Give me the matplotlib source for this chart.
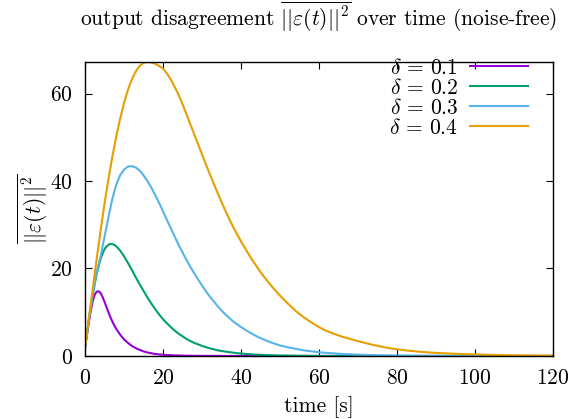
import matplotlib
matplotlib.use("Agg")
import matplotlib.pyplot as plt

plt.rcParams['font.family'] = 'cmr10'
plt.rcParams['mathtext.fontset'] = 'cm'
plt.rcParams['axes.formatter.use_mathtext'] = True

# values
t_01 = [0, 0.5, 1, 1.5, 2, 2.5, 3, 3.5, 4, 4.5, 5, 5.5, 6, 6.5, 7, 7.5, 8, 9, 10, 11, 12,
        13, 14, 15, 16, 18, 20, 23, 26, 30, 35, 40, 120]
e_01 = [1.9, 4.8, 7.8, 10.5, 12.6, 14.0, 14.7, 14.8, 14.4, 13.5, 12.4, 11.2, 10.0, 8.9,
        7.9, 7.0, 6.2, 4.9, 3.8, 3.0, 2.3, 1.8, 1.4, 1.05, 0.8, 0.45, 0.28, 0.13, 0.06,
        0.03, 0.01, 0.0, 0.0]

t_02 = [0, 0.5, 1, 1.5, 2, 2.5, 3, 3.5, 4, 4.5, 5, 5.5, 6, 6.5, 7, 7.5, 8, 8.5, 9, 10, 11,
        12, 13, 14, 15, 16, 17, 18, 19, 20, 21, 22, 23, 24, 25, 26, 27, 28, 30, 32, 34,
        36, 38, 40, 43, 46, 50, 55, 60, 70, 120]
e_02 = [1.9, 5.1, 8.3, 11.3, 14.0, 16.5, 18.7, 20.6, 22.2, 23.4, 24.4, 25.0, 25.4, 25.6,
        25.6, 25.4, 25.1, 24.6, 24.1, 22.8, 21.3, 19.7, 18.0, 16.4, 14.9, 13.4, 12.0, 10.7,
        9.5, 8.4, 7.5, 6.6, 5.8, 5.1, 4.5, 3.9, 3.4, 3.0, 2.3, 1.75, 1.3, 1.0, 0.75, 0.55,
        0.35, 0.22, 0.12, 0.05, 0.02, 0.0, 0.0]

t_03 = [0, 1, 2, 3, 4, 5, 6, 7, 8, 9, 10, 11, 12, 13, 14, 15, 16, 17, 18, 19, 20, 21, 22,
        23, 24, 25, 26, 27, 28, 29, 30, 31, 32, 33, 34, 35, 36, 38, 40, 42, 44, 46, 48, 50,
        53, 56, 60, 65, 70, 75, 80, 90, 100, 120]
e_03 = [1.9, 8.5, 14.2, 19.2, 22.8, 27.2, 31.7, 35.9, 39.1, 41.3, 42.6, 43.3, 43.4, 43.1,
        42.4, 41.3, 40.0, 38.5, 36.8, 35.0, 33.1, 31.1, 29.2, 27.3, 25.4, 23.7, 22.0, 20.4,
        18.9, 17.5, 16.1, 14.8, 13.6, 12.5, 11.4, 10.4, 9.5, 7.9, 6.6, 5.5, 4.5, 3.7, 3.0,
        2.4, 1.8, 1.3, 0.85, 0.5, 0.3, 0.17, 0.1, 0.04, 0.01, 0.0]

t_04 = [0, 1, 2, 3, 4, 5, 6, 7, 8, 9, 10, 11, 12, 13, 14, 15, 16, 17, 18, 19, 20, 21, 22,
        23, 24, 25, 26, 27, 28, 29, 30, 31, 32, 33, 34, 35, 36, 37, 38, 39, 40, 41, 42, 43,
        44, 45, 46, 48, 50, 52, 54, 56, 58, 60, 62, 64, 66, 68, 70, 74, 78, 82, 86, 90, 95,
        100, 105, 110, 115, 120]
e_04 = [1.9, 8.7, 15.5, 22.2, 28.7, 34.8, 40.4, 45.5, 50.1, 54.2, 57.8, 60.8, 63.2, 65.0,
        66.3, 67.0, 67.2, 67.1, 66.8, 66.3, 65.7, 64.6, 63.2, 61.5, 59.7, 57.6, 55.3, 53.0,
        50.7, 48.4, 46.1, 43.8, 41.6, 39.4, 37.3, 35.2, 33.2, 31.3, 29.5, 27.8, 26.2, 24.7,
        23.2, 21.8, 20.5, 19.2, 18.0, 15.8, 13.8, 12.0, 10.3, 8.9, 7.7, 6.6, 5.7, 5.0, 4.4,
        3.9, 3.4, 2.5, 1.8, 1.3, 0.95, 0.7, 0.5, 0.35, 0.24, 0.15, 0.09, 0.06]

series = [
    (t_01, e_01, r'$\delta \,=\, 0.1$', '#9400d3'),
    (t_02, e_02, r'$\delta \,=\, 0.2$', '#009e73'),
    (t_03, e_03, r'$\delta \,=\, 0.3$', '#56b4e9'),
    (t_04, e_04, r'$\delta \,=\, 0.4$', '#e69f00'),
]

fig = plt.figure(figsize=(5.83, 4.19), dpi=100)
ax = fig.add_axes([0.1458, 0.1504, 0.8027, 0.7016])

for t, e, lab, col in series:
    ax.plot(t, e, color=col, lw=1.5, label=lab)

ax.set_xlim(0, 120)
ax.set_ylim(0, 67.2)
ax.set_xticks(range(0, 121, 20))
ax.set_yticks([0, 20, 40, 60])
ax.tick_params(direction='in', length=5, width=0.8, top=True, right=True,
               labelsize=15.5, pad=9)
for s in ax.spines.values():
    s.set_linewidth(1.0)

ax.set_xlabel('time [s]', fontsize=15.5, labelpad=6)
ax.set_ylabel(r'$\overline{||\varepsilon(t)||^2}$', fontsize=15.5, labelpad=0)
ax.set_title(r'output disagreement $\overline{||\varepsilon(t)||^2}$ over time (noise-free)',
             fontsize=15.5, pad=26)

ax.legend(loc='upper right', frameon=False, markerfirst=False, fontsize=15.5,
          handlelength=2.7, handletextpad=0.55, labelspacing=0.0,
          borderpad=0, borderaxespad=0, bbox_to_anchor=(0.947, 1.015))

fig.savefig('out.png', dpi=100)
